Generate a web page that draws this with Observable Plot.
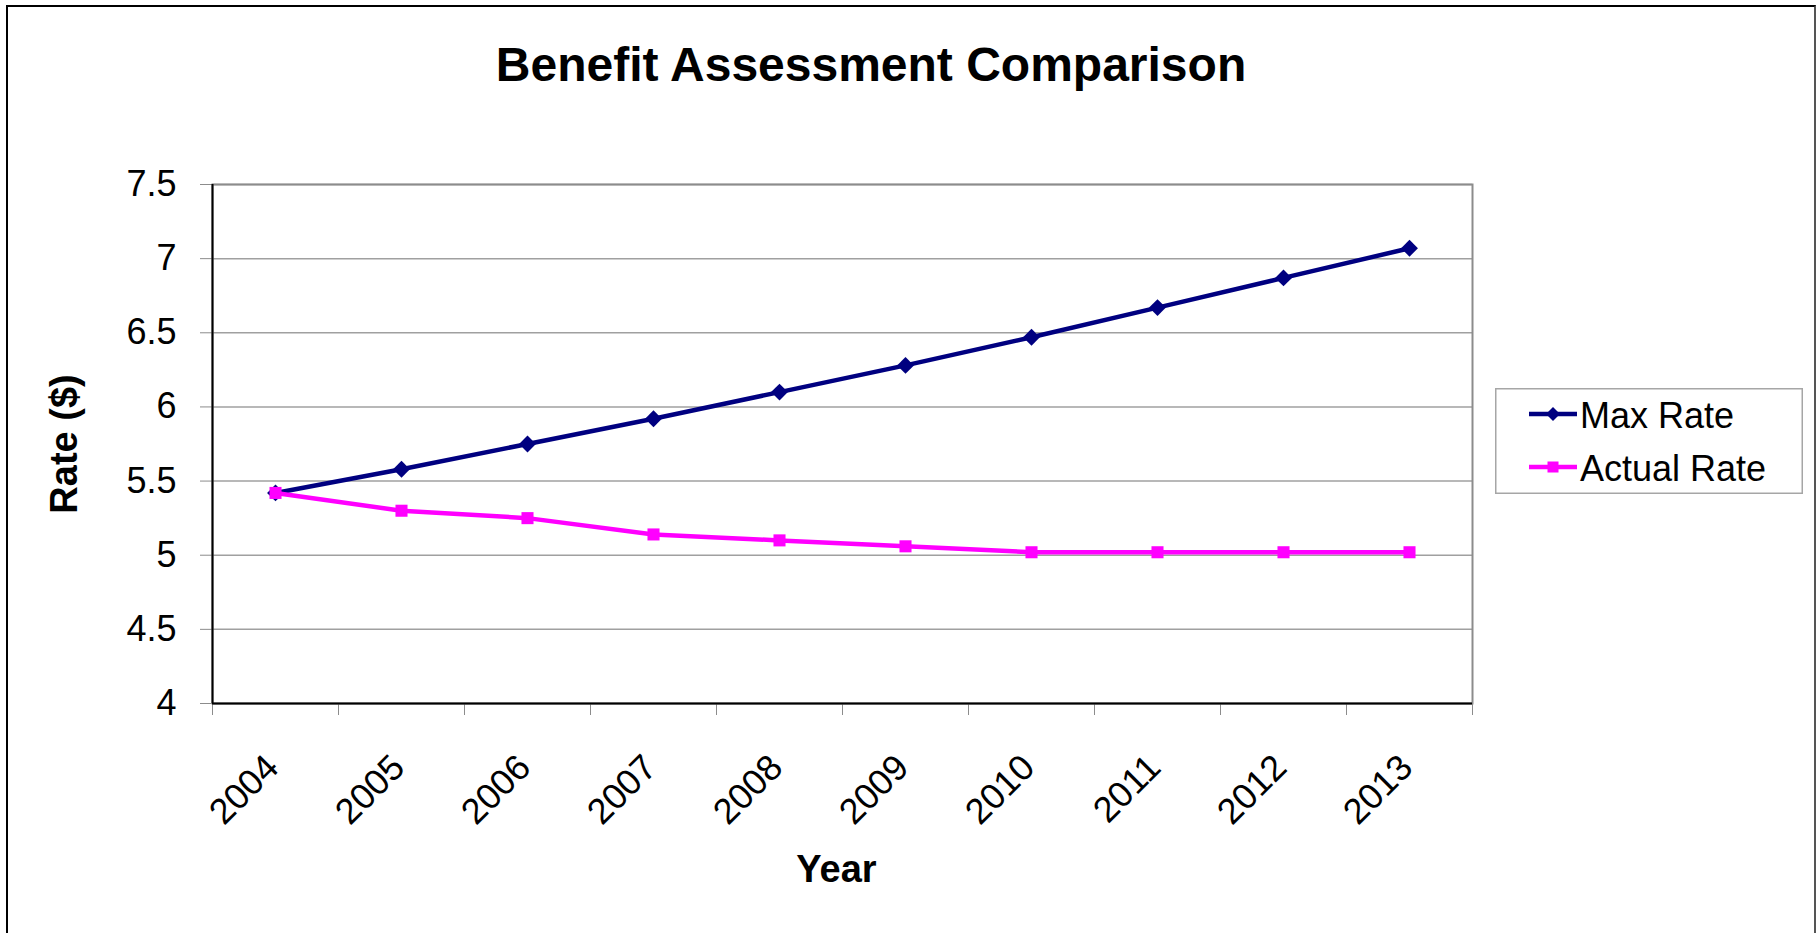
<!DOCTYPE html>
<html>
<head>
<meta charset="utf-8">
<script src="https://cdn.jsdelivr.net/npm/d3@7"></script>
<script src="https://cdn.jsdelivr.net/npm/@observablehq/plot@0.6"></script>
<style>
  html, body { margin: 0; padding: 0; background: #fff; }
  #chart { position: relative; width: 1817px; height: 933px; overflow: hidden;
           font-family: "Liberation Sans", Arial, sans-serif; background: #fff; }
  #chart svg { position: absolute; left: 0; top: 0; overflow: visible; }
  #border { position: absolute; left: 6px; top: 5px; width: 1810px; height: 960px;
            border: 2px solid #000; border-right-color: #555; box-sizing: border-box; }
  #title { position: absolute; left: 0; width: 1742px; top: 41px; text-align: center;
           font-weight: bold; font-size: 48px; line-height: 48px; color: #000; }
  #legend { position: absolute; left: 1495px; top: 388px; }
</style>
</head>
<body>
<div id="chart">
  <div id="border"></div>
  <div id="title">Benefit Assessment Comparison</div>
  <div id="legend"></div>
</div>
<script>
// Benefit assessment rates per year
const years = [2004, 2005, 2006, 2007, 2008, 2009, 2010, 2011, 2012, 2013];
const maxRate = [5.42, 5.58, 5.75, 5.92, 6.10, 6.28, 6.47, 6.67, 6.87, 7.07];
const actualRate = [5.42, 5.30, 5.25, 5.14, 5.10, 5.06, 5.02, 5.02, 5.02, 5.02];
const seriesNames = ["Max Rate", "Actual Rate"];
const seriesColors = ["#000080", "#FF00FF"];
const seriesSymbols = ["diamond2", "square"];
const yTicks = [4, 4.5, 5, 5.5, 6, 6.5, 7, 7.5];

// category boundaries: one tick between each pair of years
const boundaries = [years[0] - 0.5, ...years.map(y => y + 0.5)];

const maxRows = years.map((year, i) => ({year, value: maxRate[i]}));
const actualRows = years.map((year, i) => ({year, value: actualRate[i]}));

const font = '"Liberation Sans", Arial, sans-serif';

const chart = Plot.plot({
  width: 1817,
  height: 933,
  marginLeft: 212,
  marginRight: 345,
  marginTop: 184,
  marginBottom: 230,
  x: {type: "linear", domain: [boundaries[0], boundaries[boundaries.length - 1]]},
  y: {domain: [yTicks[0], yTicks[yTicks.length - 1]]},
  style: {fontFamily: font, background: "transparent", color: "#000"},
  marks: [
    Plot.gridY(yTicks, {stroke: "#a0a0a0", strokeOpacity: 1, strokeWidth: 1.5}),
    Plot.frame({stroke: "#8c8c8c", strokeWidth: 2}),
    Plot.axisY(yTicks, {
      tickSize: 12, tickPadding: 24, tickFormat: d => String(d),
      fontSize: 36, stroke: "#8c8c8c", fill: "#000", label: null
    }),
    Plot.axisX(boundaries, {
      tickSize: 12, tickFormat: () => "", stroke: "#8c8c8c", label: null
    }),
    Plot.text(years, {
      x: d => d, text: d => String(d), frameAnchor: "bottom",
      rotate: -45, textAnchor: "end", lineAnchor: "middle",
      dx: -3, dy: 58, fontSize: 36, fill: "#000"
    }),
    Plot.ruleX([boundaries[0]], {stroke: "#000", strokeWidth: 2}),
    Plot.ruleY([yTicks[0]], {stroke: "#000", strokeWidth: 2}),

    Plot.line(maxRows, {x: "year", y: "value", stroke: seriesColors[0], strokeWidth: 4.5}),
    Plot.dot(maxRows, {x: "year", y: "value", symbol: seriesSymbols[0], r: 7.6,
                       fill: seriesColors[0], stroke: "none"}),
    Plot.line(actualRows, {x: "year", y: "value", stroke: seriesColors[1], strokeWidth: 4.5}),
    Plot.dot(actualRows, {x: "year", y: "value", symbol: seriesSymbols[1], r: 6.8,
                          fill: seriesColors[1], stroke: "none"}),

    Plot.text(["Rate ($)"], {
      text: d => d, frameAnchor: "left", rotate: -90, textAnchor: "middle",
      lineAnchor: "middle", dx: -148, fontSize: 38, fontWeight: "bold", fill: "#000"
    }),
    Plot.text(["Year"], {
      text: d => d, frameAnchor: "bottom", textAnchor: "middle",
      lineAnchor: "middle", dx: -6, dy: 166, fontSize: 38, fontWeight: "bold", fill: "#000"
    })
  ]
});
document.getElementById("chart").insertBefore(chart, document.getElementById("title"));

// Legend: boxed list of the two series with line + marker swatches
const legendW = 308, legendH = 106;
const legend = d3.select("#legend").append("svg")
  .attr("width", legendW).attr("height", legendH)
  .style("position", "static");
legend.append("rect")
  .attr("x", 0.75).attr("y", 0.75)
  .attr("width", legendW - 1.5).attr("height", legendH - 1.5)
  .attr("fill", "#fff").attr("stroke", "#a6a6a6").attr("stroke-width", 1.5);
const rowY = [26, 79];
seriesNames.forEach((name, i) => {
  const g = legend.append("g").attr("transform", `translate(0,${rowY[i]})`);
  g.append("line").attr("x1", 34).attr("x2", 82).attr("y1", 0).attr("y2", 0)
    .attr("stroke", seriesColors[i]).attr("stroke-width", 4.5);
  if (seriesSymbols[i] === "diamond2") {
    g.append("path").attr("d", "M58,-7L65,0L58,7L51,0Z").attr("fill", seriesColors[i]);
  } else {
    g.append("rect").attr("x", 52.5).attr("y", -5.5).attr("width", 11).attr("height", 11)
      .attr("fill", seriesColors[i]);
  }
  g.append("text").attr("x", 85).attr("y", 14)
    .attr("font-family", font).attr("font-size", 36).attr("fill", "#000")
    .text(name);
});
</script>
</body>
</html>
